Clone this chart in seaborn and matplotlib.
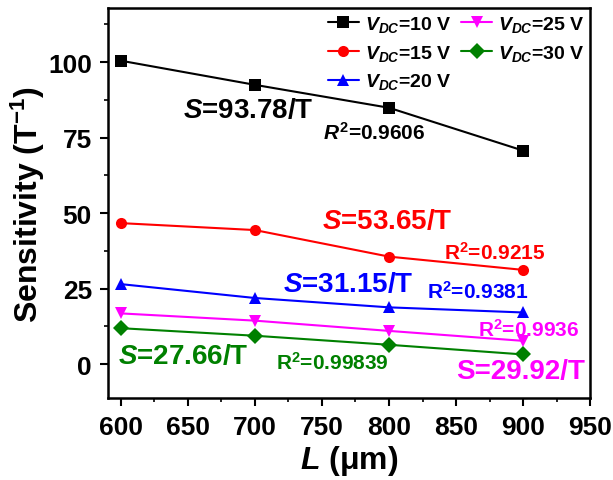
import matplotlib
matplotlib.use("Agg")
import matplotlib.pyplot as plt
import seaborn as sns
import pandas as pd
from matplotlib.ticker import MultipleLocator

sns.set_style("ticks")
plt.rcParams['font.family'] = ['Liberation Sans', 'DejaVu Sans']
plt.rcParams['font.weight'] = 'bold'
plt.rcParams['mathtext.fontset'] = 'custom'
plt.rcParams['mathtext.it'] = 'Liberation Sans:italic:bold'
plt.rcParams['mathtext.rm'] = 'Liberation Sans:bold'
plt.rcParams['mathtext.bf'] = 'Liberation Sans:bold'
plt.rcParams['text.color'] = 'black'
plt.rcParams['axes.labelcolor'] = 'black'
plt.rcParams['xtick.color'] = 'black'
plt.rcParams['ytick.color'] = 'black'
plt.rcParams['axes.edgecolor'] = 'black'

L = [600, 700, 800, 900]
v10 = [100.5, 92.5, 84.9, 70.7]
v15 = [46.7, 44.4, 35.6, 31.2]
v20 = [26.5, 21.9, 18.8, 17.1]
v25 = [16.8, 14.4, 11.0, 7.7]
v30 = [11.9, 9.4, 6.4, 3.2]
labels = [r'$\mathit{V}_{\mathit{DC}}$=10 V', r'$\mathit{V}_{\mathit{DC}}$=15 V',
          r'$\mathit{V}_{\mathit{DC}}$=20 V', r'$\mathit{V}_{\mathit{DC}}$=25 V',
          r'$\mathit{V}_{\mathit{DC}}$=30 V']
colors = ['black', 'red', 'blue', 'magenta', 'green']
markers = ['s', 'o', '^', 'v', 'D']

rows = []
for lab, vals in zip(labels, [v10, v15, v20, v25, v30]):
    for x, y in zip(L, vals):
        rows.append({'L': x, 'S': y, 'V': lab})
df = pd.DataFrame(rows)

fig = plt.figure(figsize=(6.13, 4.81), dpi=100)
ax = fig.add_axes([0.176, 0.170, 0.787, 0.811])
sns.lineplot(data=df, x='L', y='S', hue='V', style='V', hue_order=labels, style_order=labels,
             palette=dict(zip(labels, colors)), markers=dict(zip(labels, markers)),
             dashes=False, markersize=8, linewidth=1.5, markeredgewidth=0, ax=ax)

ax.set_xlim(590.5, 950)
ax.set_ylim(-11.3, 117.9)
ax.xaxis.set_major_locator(MultipleLocator(50))
ax.xaxis.set_minor_locator(MultipleLocator(25))
ax.yaxis.set_major_locator(MultipleLocator(25))
ax.yaxis.set_minor_locator(MultipleLocator(12.5))
ax.tick_params(which='major', direction='out', length=5.5, width=1.5, labelsize=19)
ax.tick_params(axis='x', which='major', pad=6.5)
ax.tick_params(axis='y', which='major', pad=6)
ax.tick_params(which='minor', direction='out', length=3, width=1.2)
for lbl in ax.get_xticklabels() + ax.get_yticklabels():
    lbl.set_fontweight('bold')
for s in ax.spines.values():
    s.set_linewidth(1.8)
ax.set_xlabel(r'$\mathit{L}$ ($\mathregular{\mu}$m)', fontsize=23, fontweight='bold', labelpad=3)
ax.set_ylabel(r'Sensitivity (T$^{\mathregular{-1}}$)', fontsize=23, fontweight='bold', labelpad=1)

leg = ax.legend(ncol=2, loc='upper right', bbox_to_anchor=(1.0, 1.0), frameon=False,
                fontsize=14, handlelength=1.6, columnspacing=0.5, handletextpad=0.3,
                labelspacing=0.45, borderaxespad=0.0, borderpad=0.3)

txt = [
    (646.6, 84.0, r'$\mathit{S}$=93.78/T', 'black', 20),
    (751, 76.9, r'$\mathit{R}^{\mathregular{2}}$=0.9606', 'black', 15),
    (750, 47.5, r'$\mathit{S}$=53.65/T', 'red', 20),
    (841, 37.1, r'R$^{\mathregular{2}}$=0.9215', 'red', 15),
    (721, 26.5, r'$\mathit{S}$=31.15/T', 'blue', 20),
    (828, 24.3, r'R$^{\mathregular{2}}$=0.9381', 'blue', 15),
    (866, 11.6, r'R$^{\mathregular{2}}$=0.9936', 'magenta', 15),
    (850, -2.2, 'S=29.92/T', 'magenta', 20),
    (598, 2.8, r'$\mathit{S}$=27.66/T', 'green', 20),
    (716, 0.7, r'R$^{\mathregular{2}}$=0.99839', 'green', 15),
]
for x, y, s, c, fs in txt:
    ax.text(x, y, s, color=c, fontsize=fs, fontweight='bold', va='center', ha='left')

fig.savefig('out.png', dpi=100)
